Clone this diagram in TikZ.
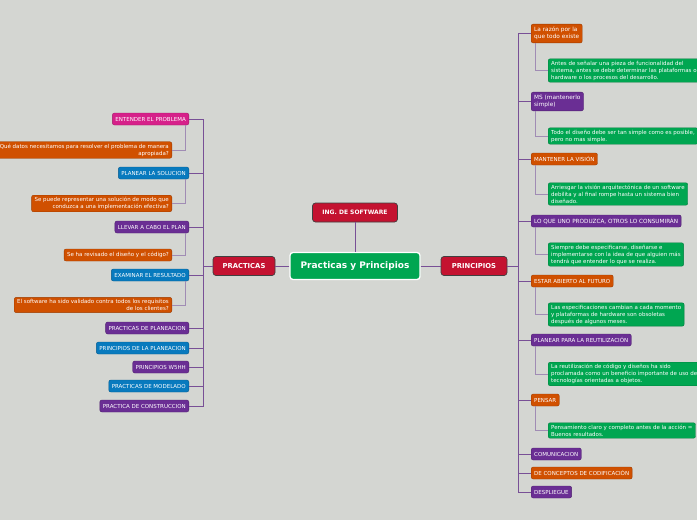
\documentclass[tikz,border=0pt]{standalone}
\usepackage{fontspec}
\newfontfamily\djv{DejaVu Sans}
\definecolor{bg}{RGB}{212,214,210}
\definecolor{cor}{RGB}{208,80,0}
\definecolor{cmag}{RGB}{214,33,138}
\definecolor{cblu}{RGB}{8,122,190}
\definecolor{cpur}{RGB}{106,46,148}
\definecolor{cgrn}{RGB}{0,166,81}
\definecolor{cred}{RGB}{196,18,48}
\definecolor{lmain}{RGB}{120,80,150}
\definecolor{lsub}{RGB}{160,140,180}
\begin{document}
\begin{tikzpicture}[x=1pt,y=-1pt,
  box/.style={rounded corners=2pt, text=white, inner xsep=3pt, inner ysep=2pt,
    font=\djv\fontsize{5.5}{7}\selectfont},
  kid/.style={box, minimum height=12pt},
  gc/.style={box, fill=#1, draw=#1!75!black, line width=0.4pt},
  kc/.style={kid, fill=#1, draw=#1!75!black, line width=0.4pt},
  top/.style={rounded corners=3pt, text=white, fill=cred, draw=black!75, line width=0.7pt,
    minimum height=19pt, font=\djv\bfseries\fontsize{6.8}{8}\selectfont},
  main/.style={draw=lmain, line width=0.8pt},
  sub/.style={draw=lsub, line width=0.7pt}]
\useasboundingbox (0,0) rectangle (697,520);
\fill[bg] (0,0) rectangle (697,520);
\clip (0,0) rectangle (697,520);

% centre
\node[fill=cgrn, draw=white, line width=1.3pt, rounded corners=3pt, minimum width=130pt,
  minimum height=27pt, text=white, font=\djv\bfseries\fontsize{9}{10}\selectfont] (c) at (355,266) {Practicas y Principios};
\node[top, minimum width=85pt, font=\djv\bfseries\fontsize{6}{7}\selectfont] (ing) at (355,212.5) {ING. DE SOFTWARE};
\node[top, minimum width=62pt] (prac) at (244,266) {PRACTICAS};
\node[top, minimum width=66pt] (prin) at (474,266) {PRINCIPIOS};
\draw[main] (c.north) -- (ing.south);
\draw[main] (c.west) -- (prac.east);
\draw[main] (c.east) -- (prin.west);

\coordinate (lv) at (203,266);
\coordinate (rv) at (518,266);
\draw[main] (prac.west) -- (lv);
\draw[main] (prin.east) -- (rv);

% left children
\node[kc=cmag, anchor=east] (e1) at (189,119) {ENTENDER EL PROBLEMA};
\node[kc=cblu, anchor=east] (e2) at (189,173) {PLANEAR LA SOLUCION};
\node[kc=cpur, anchor=east] (e3) at (189,227) {LLEVAR A CABO EL PLAN};
\node[kc=cblu, anchor=east] (e4) at (189,275) {EXAMINAR EL RESULTADO};
\node[kc=cpur, anchor=east] (e5) at (189,328) {PRACTICAS DE PLANEACION};
\node[kc=cblu, anchor=east] (e6) at (189,348) {PRINCIPIOS DE LA PLANEACION};
\node[kc=cpur, anchor=east] (e7) at (189,367) {PRINCIPIOS W5HH};
\node[kc=cblu, anchor=east] (e8) at (189,386) {PRACTICAS DE MODELADO};
\node[kc=cpur, anchor=east] (e9) at (189,406) {PRACTICA DE CONSTRUCCION};
\foreach \n in {e1,e2,e3,e4,e5,e6,e7,e8,e9}{\draw[main] (\n.east) -| (lv);}

% left grandchildren
\node[gc=cor, anchor=east, align=right] (g1) at (172,150) {Qué datos necesitamos para resolver el problema de manera\\apropiada?};
\node[gc=cor, anchor=east, align=right] (g2) at (172,203.5) {Se puede representar una solución de modo que\\conduzca a una implementación efectiva?};
\node[gc=cor, anchor=east, align=right, minimum height=12pt] (g3) at (172,255) {Se ha revisado el diseño y el código?};
\node[gc=cor, anchor=east, align=right] (g4) at (172,305) {El software ha sido validado contra todos los requisitos\\de los clientes?};
\draw[sub] ([xshift=-4pt]e1.south east) |- (g1.east);
\draw[sub] ([xshift=-4pt]e2.south east) |- (g2.east);
\draw[sub] ([xshift=-4pt]e3.south east) |- (g3.east);
\draw[sub] ([xshift=-4pt]e4.south east) |- (g4.east);

% right children
\node[kc=cor, anchor=west, align=left, inner ysep=3pt, font=\djv\fontsize{5.8}{7}\selectfont] (r1) at (531,33.5) {La razón por la\\que todo existe};
\node[kc=cpur, anchor=west, align=left, inner ysep=3pt, font=\djv\fontsize{5.8}{7}\selectfont] (r2) at (531,101.5) {MS (mantenerlo\\simple)};
\node[kc=cor, anchor=west] (r3) at (531,159) {MANTENER LA VISIÓN};
\node[kc=cpur, anchor=west, font=\djv\fontsize{5.7}{7}\selectfont] (r4) at (531,221) {LO QUE UNO PRODUZCA, OTROS LO CONSUMIRÁN};
\node[kc=cor, anchor=west] (r5) at (531,281) {ESTAR ABIERTO AL FUTURO};
\node[kc=cpur, anchor=west] (r6) at (531,340) {PLANEAR PARA LA REUTILIZACIÓN};
\node[kc=cor, anchor=west] (r7) at (531,400) {PENSAR};
\node[kc=cpur, anchor=west] (r8) at (531,454) {COMUNICACION};
\node[kc=cor, anchor=west] (r9) at (531,473) {DE CONCEPTOS DE CODIFICACIÓN};
\node[kc=cpur, anchor=west] (r10) at (531,492) {DESPLIEGUE};
\foreach \n in {r1,r2,r3,r4,r5,r6,r7,r8,r9,r10}{\draw[main] (rv) |- (\n.west);}

% right grandchildren
\node[gc=cgrn, anchor=west, align=left] (h1) at (548,70.5) {Antes de señalar una pieza de funcionalidad del\\sistema, antes se debe determinar las plataformas o\\hardware o los procesos del desarrollo.};
\node[gc=cgrn, anchor=west, align=left] (h2) at (548,136) {Todo el diseño debe ser tan simple como es posible,\\pero no mas simple.};
\node[gc=cgrn, anchor=west, align=left] (h3) at (548,194) {Arriesgar la visión arquitectónica de un software\\debilita y al final rompe hasta un sistema bien\\diseñado.};
\node[gc=cgrn, anchor=west, align=left] (h4) at (548,254.5) {Siempre debe especificarse, diseñarse e\\implementarse con la idea de que alguien más\\tendrá que entender lo que se realiza.};
\node[gc=cgrn, anchor=west, align=left] (h5) at (548,314.5) {Las especificaciones cambian a cada momento\\y plataformas de hardware son obsoletas\\después de algunos meses.};
\node[gc=cgrn, anchor=west, align=left] (h6) at (548,374) {La reutilización de código y diseños ha sido\\proclamada como un beneficio importante de uso de\\tecnologías orientadas a objetos.};
\node[gc=cgrn, anchor=west, align=left] (h7) at (548,430.5) {Pensamiento claro y completo antes de la acción =\\Buenos resultados.};
\draw[sub] ([xshift=4pt]r1.south west) |- (h1.west);
\draw[sub] ([xshift=4pt]r2.south west) |- (h2.west);
\draw[sub] ([xshift=4pt]r3.south west) |- (h3.west);
\draw[sub] ([xshift=4pt]r4.south west) |- (h4.west);
\draw[sub] ([xshift=4pt]r5.south west) |- (h5.west);
\draw[sub] ([xshift=4pt]r6.south west) |- (h6.west);
\draw[sub] ([xshift=4pt]r7.south west) |- (h7.west);
\end{tikzpicture}
\end{document}
